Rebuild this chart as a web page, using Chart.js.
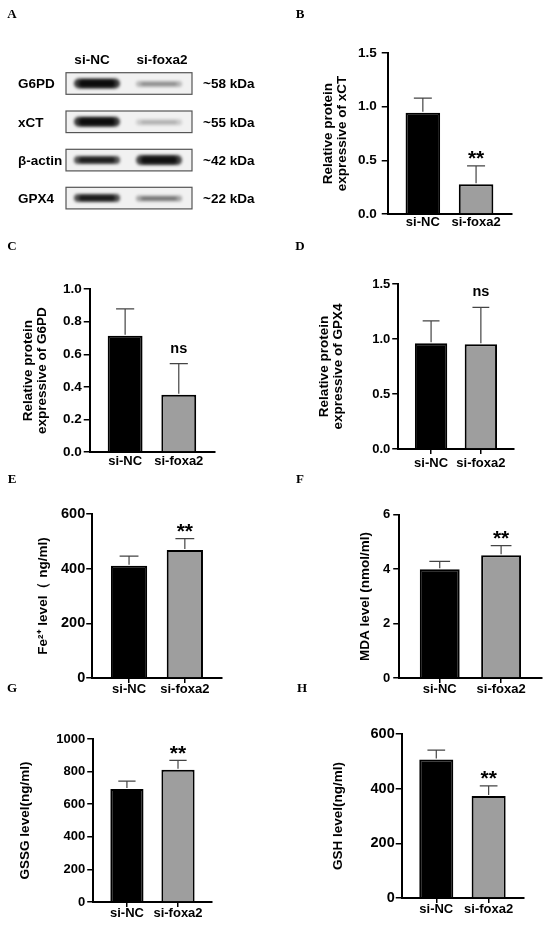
<!DOCTYPE html>
<html>
<head>
<meta charset="utf-8">
<script src="https://cdn.jsdelivr.net/npm/chart.js@4.4.1/dist/chart.umd.min.js"></script>
<style>
  html, body { margin: 0; padding: 0; background: #fff; }
  #page { position: relative; width: 550px; height: 929px; overflow: hidden; }
  #page canvas { position: absolute; }
</style>
</head>
<body>
<div id="page">
  <canvas id="bg" width="550" height="929" style="left:0;top:0"></canvas>
</div>
<script>
// groups on every x axis
const groups = ['si-NC', 'si-foxa2'];

// B: xCT
const xctMean = [0.944, 0.278];
const xctSd = [0.137, 0.171];
const xctTicks = [0, 0.5, 1.0, 1.5];
// C: G6PD
const g6pdMean = [0.714, 0.352];
const g6pdSd = [0.165, 0.19];
const g6pdTicks = [0, 0.2, 0.4, 0.6, 0.8, 1.0];
// D: GPX4
const gpx4Mean = [0.961, 0.952];
const gpx4Sd = [0.204, 0.335];
const gpx4Ticks = [0, 0.5, 1.0, 1.5];
// E: Fe2+
const fe2Mean = [411, 468];
const fe2Sd = [35, 42];
const fe2Ticks = [0, 200, 400, 600];
// F: MDA
const mdaMean = [4.0, 4.51];
const mdaSd = [0.29, 0.36];
const mdaTicks = [0, 2, 4, 6];
// G: GSSG
const gssgMean = [693, 812];
const gssgSd = [49, 57];
const gssgTicks = [0, 200, 400, 600, 800, 1000];
// H: GSH
const gshMean = [507, 373];
const gshSd = [34, 37];
const gshTicks = [0, 200, 400, 600];

// A: western blot rows and band darkness (si-NC, si-foxa2)
const blotProteins = ['G6PD', 'xCT', 'β-actin', 'GPX4'];
const blotSizes = ['~58 kDa', '~55 kDa', '~42 kDa', '~22 kDa'];
const bandDarkness = [[1.0, 0.32], [1.0, 0.2], [0.85, 0.95], [0.88, 0.42]];

const SANS = "'Liberation Sans', Arial, sans-serif";
const SERIF = "'Liberation Serif', 'Times New Roman', serif";

// ---------- background: blot + panel letters ----------
const bg = document.getElementById('bg').getContext('2d');

const letters = [['A', 12, 14], ['B', 300, 14], ['C', 12, 246], ['D', 300, 246],
  ['E', 12, 479], ['F', 300, 479], ['G', 12, 688], ['H', 302, 688]];
bg.fillStyle = '#000';
bg.font = 'bold 13px ' + SERIF;
bg.textAlign = 'center';
letters.forEach(([t, x, y]) => bg.fillText(t, x, y + 4.3));

bg.font = 'bold 13.5px ' + SANS;
bg.fillText('si-NC', 92, 63.5);
bg.fillText('si-foxa2', 162, 63.5);

const rowTops = [72.7, 111, 149.3, 187.3];
const rowH = 21.6;
const lanes = [{ x: 72, w: 50 }, { x: 134, w: 50 }];

const band = (cx, cy, w, h, a) => {
  bg.save();
  bg.filter = 'blur(1.8px)';
  bg.fillStyle = 'rgba(0,0,0,' + a * 0.75 + ')';
  bg.beginPath();
  bg.roundRect(cx - w / 2, cy - h / 2, w, h, h / 2);
  bg.fill();
  bg.fillStyle = 'rgba(0,0,0,' + (a * 0.8) + ')';
  bg.beginPath();
  bg.roundRect(cx - w / 2 + 5, cy - h / 2 + 1.5, w - 10, h - 3, (h - 3) / 2);
  bg.fill();
  bg.restore();
};

blotProteins.forEach((name, r) => {
  const top = rowTops[r];
  const cy = top + rowH / 2;
  bg.fillStyle = '#f1f1f1';
  bg.fillRect(66, top, 126, rowH);
  bg.save();
  bg.beginPath();
  bg.rect(66, top, 126, rowH);
  bg.clip();
  lanes.forEach((lane, l) => {
    const a = bandDarkness[r][l];
    const h = a > 0.9 ? 10 : (a > 0.6 ? 8 : 6);
    band(lane.x + lane.w / 2, cy + (l === 1 && a < 0.6 ? 0.5 : 0), lane.w - 4, h, a);
  });
  bg.restore();
  bg.strokeStyle = '#555';
  bg.lineWidth = 1.2;
  bg.strokeRect(66, top, 126, rowH);

  bg.fillStyle = '#000';
  bg.font = 'bold 13.5px ' + SANS;
  bg.textAlign = 'left';
  bg.fillText(name, 18, cy + 4.8);
  bg.fillText(blotSizes[r], 203, cy + 4.8);
});

// ---------- bar charts ----------
const errorBars = (sd, mark) => ({
  id: 'errorBars',
  afterDatasetsDraw(chart) {
    const { ctx } = chart;
    const y = chart.scales.y;
    const bars = chart.getDatasetMeta(0).data;
    const means = chart.data.datasets[0].data;
    ctx.save();
    ctx.strokeStyle = '#444';
    ctx.lineWidth = 1.2;
    bars.forEach((bar, i) => {
      const top = y.getPixelForValue(means[i].y + sd[i]);
      const half = bar.width * 0.26;
      ctx.beginPath();
      ctx.moveTo(bar.x, bar.y - 1);
      ctx.lineTo(bar.x, top);
      ctx.moveTo(bar.x - half, top);
      ctx.lineTo(bar.x + half, top);
      ctx.stroke();
    });
    // significance mark over si-foxa2
    const bar = bars[1];
    const top = y.getPixelForValue(means[1].y + sd[1]);
    ctx.fillStyle = '#000';
    ctx.textAlign = 'center';
    ctx.textBaseline = 'alphabetic';
    if (mark === '**') {
      ctx.font = 'bold 21px ' + SANS;
      ctx.fillText(mark, bar.x, top - 12 + 11.5);
    } else {
      ctx.font = 'bold 14.5px ' + SANS;
      ctx.fillText(mark, bar.x, top - 15 + 3.8);
    }
    ctx.restore();
  }
});

const panels = [
  { mean: xctMean, sd: xctSd, ticks: xctTicks, dec: 1, mark: '**',
    title: ['Relative protein', 'expressive of xCT'], titleX: 328.5,
    area: [388, 50, 512, 214], tickSize: 13.5, yPad: 5, xTick: 0, xPad: 0.2 },
  { mean: g6pdMean, sd: g6pdSd, ticks: g6pdTicks, dec: 1, mark: 'ns',
    title: ['Relative protein', 'expressive of G6PD'], titleX: 28.5,
    area: [90, 289, 215, 452], tickSize: 13.5, yPad: 2, xTick: 0, xPad: 1.2 },
  { mean: gpx4Mean, sd: gpx4Sd, ticks: gpx4Ticks, dec: 1, mark: 'ns',
    title: ['Relative protein', 'expressive of GPX4'], titleX: 324,
    area: [398, 284, 514, 449], tickSize: 13, yPad: 2, xTick: 5, xPad: 1.7 },
  { mean: fe2Mean, sd: fe2Sd, ticks: fe2Ticks, dec: 0, mark: '**',
    title: 'Fe²⁺ level（ ng/ml)', titleX: 43,
    area: [92, 514, 222, 678], tickSize: 14.5, yPad: 1, xTick: 5, xPad: -1.8 },
  { mean: mdaMean, sd: mdaSd, ticks: mdaTicks, dec: 0, mark: '**',
    title: 'MDA level (nmol/ml)', titleX: 365,
    area: [399, 514, 542, 678], tickSize: 13, yPad: 3, xTick: 5, xPad: -1.8 },
  { mean: gssgMean, sd: gssgSd, ticks: gssgTicks, dec: 0, mark: '**',
    title: 'GSSG level(ng/ml)', titleX: 25,
    area: [93, 739, 212, 902], tickSize: 13, yPad: 2, xTick: 5, xPad: -1.8 },
  { mean: gshMean, sd: gshSd, ticks: gshTicks, dec: 0, mark: '**',
    title: 'GSH level(ng/ml)', titleX: 338.5,
    area: [402, 734, 524, 898], tickSize: 14.5, yPad: 1, xTick: 5, xPad: -1.8 }
];

const TITLE_SIZE = 13.5;
const TITLE_LH = 1.07;
const PAD_TOP = 10;
const X_H = 26;
const PAD_RIGHT = 6;

panels.forEach((p) => {
  const [aL, aT, aR, aB] = p.area;
  const left = p.titleX - (TITLE_SIZE * TITLE_LH) / 2;
  const top = aT - PAD_TOP;
  const width = Math.ceil(aR + PAD_RIGHT - left);
  const height = Math.ceil(aB + X_H - top);

  const canvas = document.createElement('canvas');
  canvas.width = width;
  canvas.height = height;
  canvas.style.left = left + 'px';
  canvas.style.top = top + 'px';
  canvas.style.width = width + 'px';
  canvas.style.height = height + 'px';
  document.getElementById('page').appendChild(canvas);

  new Chart(canvas.getContext('2d'), {
    type: 'bar',
    data: {
      datasets: [{
        data: p.mean.map((v, i) => ({ x: i, y: v })),
        backgroundColor: ['#000000', '#9e9e9e'],
        borderColor: '#000',
        borderWidth: 2,
        barPercentage: 0.65,
        categoryPercentage: 1
      }]
    },
    options: {
      responsive: false,
      animation: false,
      devicePixelRatio: 1,
      layout: { padding: { top: PAD_TOP, right: width - (aR - left), bottom: 0, left: 0 } },
      plugins: { legend: { display: false }, tooltip: { enabled: false } },
      scales: {
        x: {
          type: 'linear',
          min: -0.66,
          max: 1.67,
          offset: false,
          afterBuildTicks: (s) => { s.ticks = groups.map((g, i) => ({ value: i })); },
          afterFit: (s) => { s.height = height - (aB - top); },
          ticks: {
            callback: (v) => groups[v],
            color: '#000',
            font: { family: SANS, weight: 'bold', size: 13 },
            padding: p.xPad,
            maxRotation: 0,
            autoSkip: false
          },
          grid: {
            display: true,
            offset: false,
            drawOnChartArea: false,
            drawTicks: p.xTick > 0,
            tickLength: p.xTick,
            color: '#000',
            lineWidth: 1.5
          },
          border: { display: true, color: '#000', width: 2 }
        },
        y: {
          min: p.ticks[0],
          max: p.ticks[p.ticks.length - 1],
          afterBuildTicks: (s) => { s.ticks = p.ticks.map((v) => ({ value: v })); },
          afterFit: (s) => { s.width = aL - left; },
          ticks: {
            callback: (v) => Number(v).toFixed(p.dec),
            color: '#000',
            font: { family: SANS, weight: 'bold', size: p.tickSize },
            padding: p.yPad
          },
          grid: {
            drawOnChartArea: false,
            drawTicks: true,
            tickLength: 6,
            color: '#000',
            lineWidth: 1.5
          },
          border: { display: true, color: '#000', width: 2 },
          title: {
            display: true,
            text: p.title,
            color: '#000',
            padding: 0,
            font: { family: SANS, weight: 'bold', size: TITLE_SIZE, lineHeight: TITLE_LH }
          }
        }
      }
    },
    plugins: [errorBars(p.sd, p.mark)]
  });
});
</script>
</body>
</html>
